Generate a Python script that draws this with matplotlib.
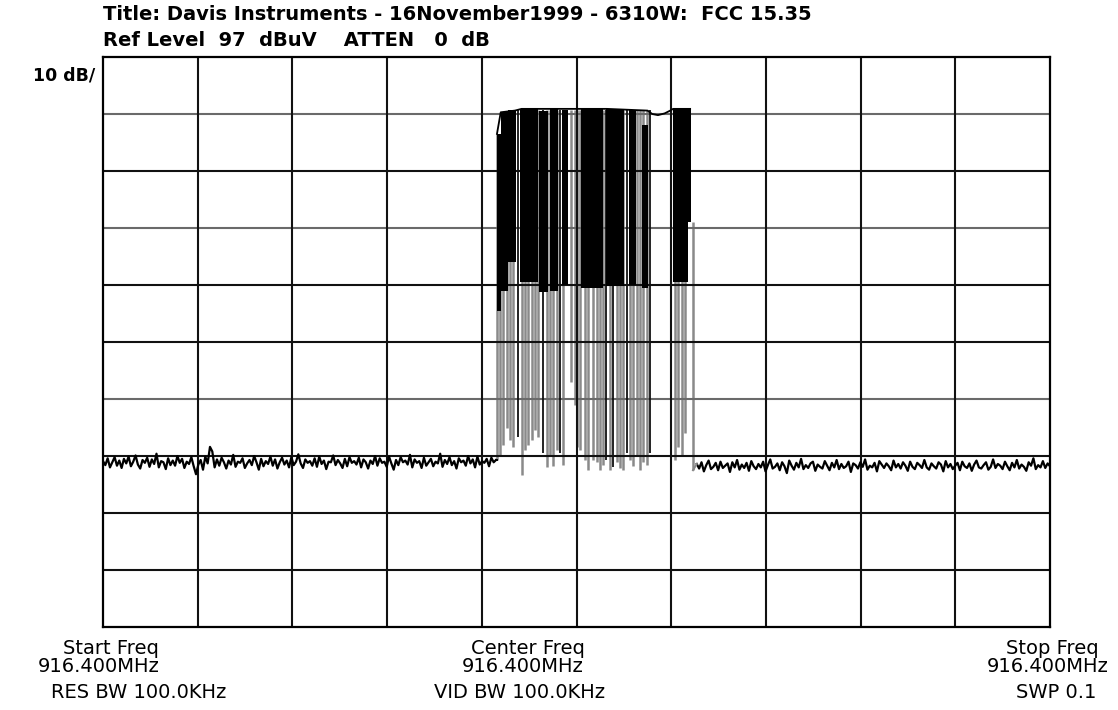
import numpy as np
import matplotlib
matplotlib.use("Agg")
import matplotlib.pyplot as plt

plt.rcParams['font.family'] = ['DejaVu Sans']

# ---------------- data (x: sweep position 0..100 %, y: dBuV) ----------------
ref_level = 97
db_per_div = 10

noise_left = [
 26.1,25.4,26.6,25.0,25.9,26.8,25.3,26.2,24.9,26.5,
 25.7,26.9,25.2,26.0,27.1,25.5,24.8,26.3,25.8,26.7,
 25.1,26.4,25.6,27.4,25.0,26.1,25.9,24.7,26.6,25.4,
 26.2,25.3,27.0,25.8,26.5,24.9,26.0,25.6,26.8,25.2,
 23.8,25.5,26.3,24.6,26.9,25.7,28.6,27.8,25.0,26.4,
 25.3,26.7,25.9,24.8,26.2,25.5,27.2,25.1,26.0,25.8,
 26.6,24.9,25.7,26.3,25.4,27.0,25.9,24.6,26.5,25.2,
 26.1,25.6,26.9,25.3,26.4,24.8,25.9,26.7,25.5,26.2,
 25.0,26.8,25.4,26.0,27.3,25.7,24.9,26.4,25.8,26.1,
 25.3,26.6,25.1,26.9,25.6,26.2,24.7,26.0,25.9,27.1,
 25.4,26.3,25.7,24.9,26.5,25.2,26.8,25.8,26.1,25.5,
 26.7,25.0,26.4,25.9,24.8,26.2,25.6,27.0,25.3,26.6,
 25.8,26.0,25.1,26.9,25.7,24.6,26.3,25.4,26.8,25.9,
 26.2,25.5,27.2,25.0,26.4,25.8,26.1,24.9,26.7,25.3,
 25.9,26.5,25.2,26.0,25.7,27.4,25.1,26.3,25.6,26.8,
 25.4,26.1,24.8,26.6,25.9,26.2,25.3,27.0,25.7,26.4,
 25.0,26.9,25.5,26.1,25.8,26.5,25.2,26.7,25.9,26.3]

noise_right = [
 25.6,24.8,25.9,24.3,25.4,26.2,24.7,25.1,25.8,24.5,
 26.0,24.9,25.3,25.7,24.2,25.9,25.0,26.3,24.6,25.5,
 24.9,25.8,24.4,26.1,25.2,24.7,25.6,25.0,26.0,24.3,
 25.4,26.4,24.8,25.1,25.7,24.5,25.9,25.2,24.0,26.2,
 25.3,24.6,25.8,25.0,26.5,24.7,25.4,24.9,25.7,26.0,
 24.4,25.5,25.1,24.8,26.1,25.3,24.5,25.8,25.0,26.3,
 24.7,25.6,24.9,25.2,26.0,24.2,25.7,25.4,24.8,25.9,
 25.1,26.4,24.6,25.3,25.0,25.8,24.3,26.1,25.5,24.9,
 25.7,25.2,24.5,26.2,25.0,25.6,24.8,25.9,25.3,24.4,
 26.0,25.1,24.7,25.8,25.4,24.9,26.3,25.0,24.6,25.7,
 25.2,24.8,25.9,25.5,24.3,26.1,25.0,25.6,24.7,25.3,
 25.8,24.5,26.0,25.2,24.9,25.7,24.4,25.5,26.2,25.0,
 24.8,25.4,25.9,24.6,25.1,26.4,24.9,25.6,25.3,24.7,
 26.0,25.2,24.5,25.8,25.0,26.3,24.8,25.5,25.1,24.4,
 25.9,25.3,26.6,24.7,25.4,25.0,26.1,24.9,25.7,25.2]

noise_left_span = (0.0, 41.5)
noise_right_span = (62.7, 100.0)

# dense (solid) parts of the burst: start, end, top dB, bottom dB
block_x0 =  [41.6, 42.0, 42.8, 44.0, 46.0, 47.2, 48.5, 50.5, 53.1, 55.5, 56.9, 60.2, 61.8]
block_x1 =  [42.0, 42.8, 43.6, 45.9, 47.0, 48.0, 49.1, 52.8, 55.0, 56.3, 57.6, 61.8, 62.1]
block_top = [83.5, 87.3, 87.7, 87.9, 87.6, 87.8, 87.7, 87.8, 87.9, 87.7, 85.0, 87.9, 87.9]
block_bot = [52.5, 56.0, 61.0, 57.5, 55.8, 56.0, 57.0, 56.5, 56.8, 57.0, 56.5, 57.5, 68.0]

# individual dips of the trace: position, lowest dB, top dB, dark
dip_x = [41.6,41.9,42.2,42.7,43.0,43.3,43.8,44.2,44.6,44.9,45.3,45.6,45.9,
         46.5,46.9,47.2,47.5,47.9,48.3,48.6,49.4,49.8,50.1,50.4,50.9,51.2,
         51.7,52.2,52.5,52.8,53.1,53.5,53.9,54.3,54.6,54.9,55.3,55.6,56.0,
         56.4,56.7,57.0,57.4,57.8,60.4,60.7,61.1,61.5,62.3]
dip_low = [26.3,27.2,28.9,31.9,29.8,28.6,30.3,23.7,28.1,28.9,29.8,31.6,30.3,
           27.5,25.1,27.2,25.2,28.1,27.5,25.4,40.0,36.0,28.6,28.1,26.3,24.5,
           26.3,25.9,24.5,25.4,26.3,24.5,25.1,25.9,24.9,24.5,27.5,26.3,25.2,
           27.2,24.5,25.9,25.4,27.5,26.3,28.6,27.2,31.0,24.5]
dip_top = [83.5]*6 + [87.7]*42 + [68.0]
dip_dark = [0,0,0,0,0,0,1,0,0,0,0,0,0,
            1,0,0,0,0,1,0,0,0,0,0,0,0,
            0,0,0,0,1,0,1,0,0,0,1,0,0,
            0,0,0,0,1,0,0,0,0,0]

# upper envelope of the burst
top_x = [41.6, 42.0, 43.5, 44.2, 53.2, 57.5, 58.0, 58.6, 59.3, 59.9, 60.2, 62.0]
top_y = [83.5, 87.3, 87.6, 87.9, 87.9, 87.6, 87.0, 86.8, 87.1, 87.6, 87.9, 87.9]

# ---------------- figure ----------------
W, H = 1118, 710
fig = plt.figure(figsize=(W/100, H/100), dpi=100)
fig.patch.set_facecolor('white')
L, R, T, B = 103, 1050, 57, 627
ax = fig.add_axes([L/W, 1-B/H, (R-L)/W, (B-T)/H])
ax.set_xlim(0, 100)
ax.set_ylim(ref_level - 10*db_per_div, ref_level)
ax.set_xticks([]); ax.set_yticks([])
for s in ax.spines.values():
    s.set_linewidth(1.6)
    s.set_color('black')
    s.set_zorder(6)

# graticule
hcols = ['#6a6a6a', '#111', '#6a6a6a', '#111', '#111', '#6a6a6a', '#111', '#111', '#111']
for i, c in enumerate(hcols):
    ax.axhline(ref_level - (i+1)*db_per_div, color=c, lw=1.5, zorder=2)
for i in range(1, 10):
    ax.axvline(i*10, color='#111', lw=1.5, zorder=2)

# noise floor
xl = np.linspace(*noise_left_span, len(noise_left))
xr = np.linspace(*noise_right_span, len(noise_right))
ax.plot(xl, noise_left, color='black', lw=1.6, zorder=4)
ax.plot(xr, noise_right, color='black', lw=1.6, zorder=4)
ax.plot([xl[-1], dip_x[0]], [noise_left[-1], dip_low[0]], color='black', lw=1.4, zorder=4)
ax.plot([dip_x[-1], xr[0]], [dip_low[-1], noise_right[0]], color='#888', lw=1.4, zorder=4)

# dips
for x, lo, tp, dk in zip(dip_x, dip_low, dip_top, dip_dark):
    ax.vlines(x, lo, tp, color='#111' if dk else '#8a8a8a',
              lw=1.3 if dk else 1.8, zorder=1 if not dk else 3)

# dense blocks
for x0, x1, tp, bt in zip(block_x0, block_x1, block_top, block_bot):
    ax.fill_between([x0, x1], [bt, bt], [tp, tp], color='black', lw=0, zorder=3)

ax.plot(top_x, top_y, color='black', lw=1.3, zorder=3)

# ---------------- texts ----------------
def ftext(x, y, s, ha='left', size=14, weight='normal'):
    fig.text(x/W, 1-y/H, s, ha=ha, va='center', fontsize=size, color='black',
             fontweight=weight)

ftext(103, 15, "Title: Davis Instruments - 16November1999 - 6310W:  FCC 15.35", weight='bold')
ftext(103, 41, "Ref Level  97  dBuV    ATTEN   0  dB", weight='bold')
ftext(33, 75, "10 dB/", size=12.5, weight='bold')

ftext(111, 648, "Start Freq", ha='center')
ftext(99, 667, "916.400MHz", ha='center')
ftext(139, 692, "RES BW 100.0KHz", ha='center')

ftext(528, 648, "Center Freq", ha='center')
ftext(523, 667, "916.400MHz", ha='center')
ftext(520, 692, "VID BW 100.0KHz", ha='center')

ftext(1052, 648, "Stop Freq", ha='center')
ftext(1048, 667, "916.400MHz", ha='center')
ftext(1056, 692, "SWP 0.1", ha='center')

fig.savefig("out.png", dpi=100, facecolor='white')
